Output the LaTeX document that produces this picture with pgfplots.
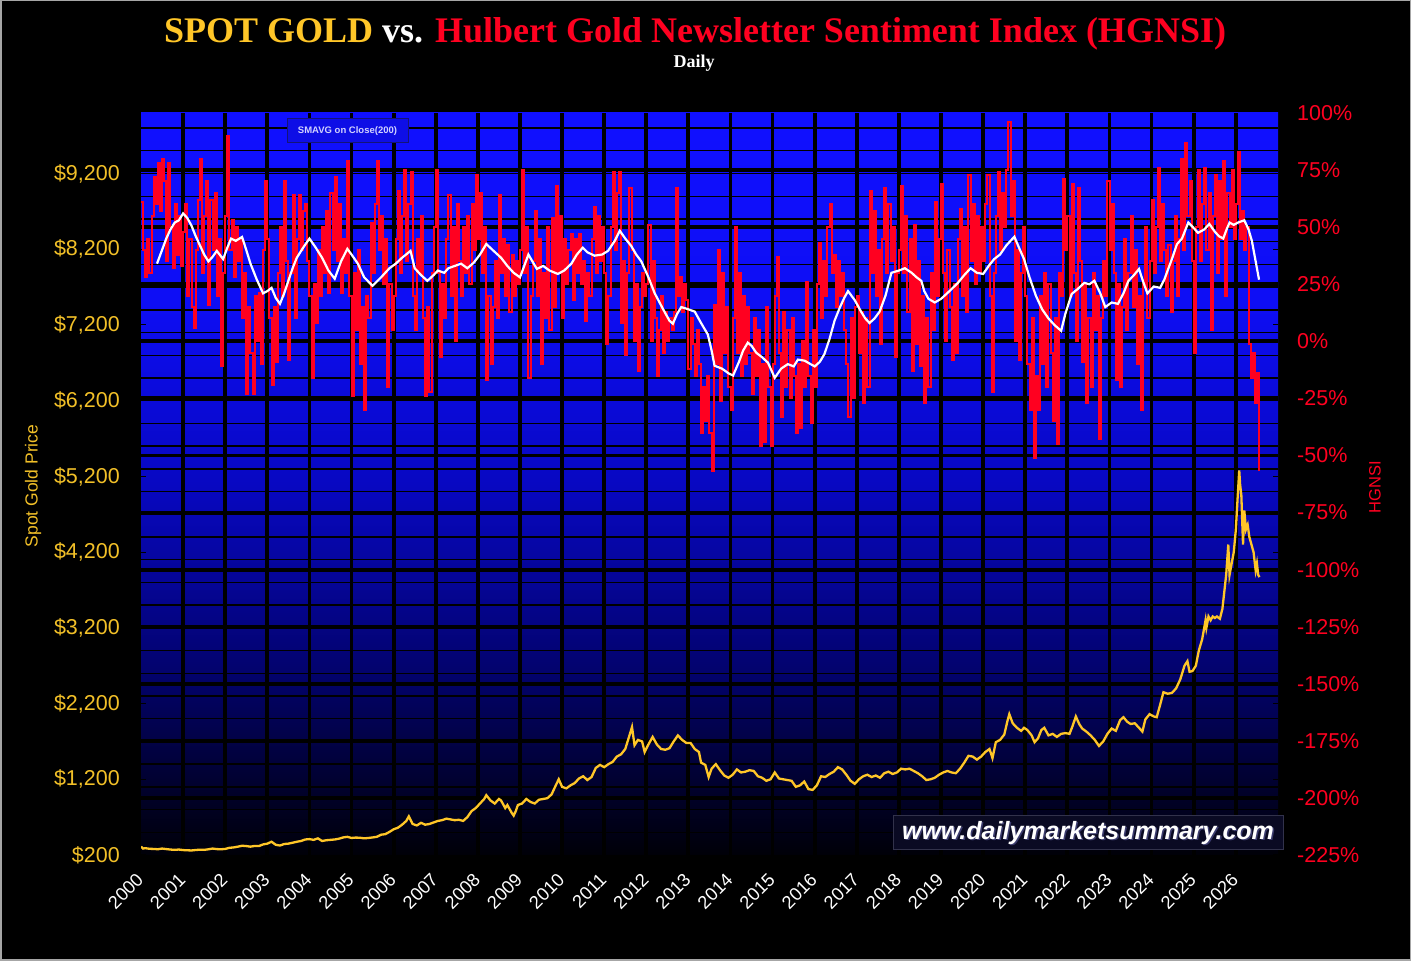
\documentclass[border=0pt]{standalone}
\usepackage{pgfplots}
\pgfplotsset{compat=1.18}
\usepackage{fontspec}
\setmainfont{Liberation Sans}
\newfontfamily\titlefont{Liberation Serif}
\definecolor{goldc}{RGB}{255,198,40}
\definecolor{labgold}{RGB}{242,192,40}
\definecolor{redc}{RGB}{255,0,32}
\pgfdeclareverticalshading{bgblue}{100bp}{rgb(0bp)=(0,0,0.03); rgb(25bp)=(0,0,0.03); rgb(37.5bp)=(0.01,0.01,0.43); rgb(50bp)=(0.03,0.03,0.76); rgb(62.5bp)=(0.055,0.055,0.96); rgb(75bp)=(0.063,0.063,1); rgb(100bp)=(0.063,0.063,1)}
\begin{document}
\begin{tikzpicture}[x=1pt,y=1pt]
\fill[black] (0,0) rectangle (1411,961);
\draw[gray!70, line width=1.5pt] (0.75,0.75) rectangle (1410.25,960.25);
\shade[shading=bgblue] (141,106) rectangle (1278,848);
\begin{axis}[
  at={(141pt,106pt)}, anchor=south west, width=1137pt, height=742pt, scale only axis,
  xmin=2000, xmax=2027, ymin=200, ymax=10000,
  scaled ticks=false,
  axis line style={draw=none},
  /pgf/number format/assume math mode=true,
  xtick={2000,2001,...,2026},
  xticklabel={\pgfmathprintnumber[1000 sep={}]{\tick}},
  xtick style={draw=none},
  extra x ticks={2001,2002,...,2026},
  extra x tick style={grid=major, major tick length=0pt, xticklabel={}},
  ytick={200,1200,...,9200},
  yticklabel={\$\pgfmathprintnumber{\tick}},
  minor ytick={500,800,...,9800},
  yminorgrids=true,
  minor grid style={black, line width=1.3pt},
  minor tick length=0pt,
  extra y ticks={953.846,1707.692,2461.538,3215.385,3969.231,4723.077,5476.923,6230.769,6984.615,7738.462,8492.308,9246.154},
  extra y tick style={grid=major, major tick length=0pt, yticklabel={}},
  major grid style={black, line width=3.8pt},
  tick align=inside, major tick length=5pt,
  ytick style={black, line width=1pt},
  xticklabel style={rotate=45, anchor=north east, inner sep=0pt, font=\fontsize{18.3}{19}\selectfont, text=white, xshift=-16pt, yshift=-8pt},
  yticklabel style={anchor=east, inner sep=0pt, xshift=-21pt, font=\fontsize{21.5}{22}\selectfont, text=labgold},
]
\addplot[goldc, line width=2.3pt] coordinates {
(2000.0,310) (2000.05,285) (2000.1,290) (2000.2,282) (2000.3,280) (2000.4,276) (2000.5,285) (2000.6,278) (2000.7,272) (2000.8,268) (2000.9,272)
(2001.0,265) (2001.1,262) (2001.2,260) (2001.3,266) (2001.4,270) (2001.5,268) (2001.6,275) (2001.7,285) (2001.8,278) (2001.9,276)
(2002.0,280) (2002.1,295) (2002.2,300) (2002.3,310) (2002.4,322) (2002.5,318) (2002.6,310) (2002.7,320) (2002.8,318) (2002.9,340)
(2003.0,350) (2003.1,375) (2003.2,335) (2003.3,325) (2003.4,345) (2003.5,350) (2003.6,362) (2003.7,375) (2003.8,385) (2003.9,405)
(2004.0,410) (2004.1,400) (2004.2,420) (2004.3,385) (2004.4,395) (2004.5,400) (2004.6,405) (2004.7,415) (2004.8,432) (2004.9,440)
(2005.0,425) (2005.1,430) (2005.2,428) (2005.3,420) (2005.4,425) (2005.5,432) (2005.6,440) (2005.7,468) (2005.8,475) (2005.9,505)
(2006.0,540) (2006.1,560) (2006.2,600) (2006.3,650) (2006.36,710) (2006.45,610) (2006.55,590) (2006.65,625) (2006.75,600) (2006.85,610) (2006.95,630)
(2007.05,650) (2007.15,660) (2007.25,680) (2007.35,670) (2007.45,660) (2007.55,665) (2007.65,650) (2007.75,700) (2007.85,780) (2007.95,820)
(2008.05,880) (2008.15,940) (2008.2,990) (2008.3,920) (2008.4,880) (2008.5,940) (2008.55,920) (2008.65,820) (2008.7,860) (2008.8,760) (2008.85,720) (2008.9,780) (2008.95,860)
(2009.05,880) (2009.15,940) (2009.25,900) (2009.35,880) (2009.45,930) (2009.55,940) (2009.65,950) (2009.75,1000) (2009.85,1120) (2009.92,1200)
(2010.0,1100) (2010.1,1080) (2010.2,1120) (2010.3,1150) (2010.4,1210) (2010.5,1240) (2010.6,1190) (2010.7,1230) (2010.8,1350) (2010.9,1390)
(2011.0,1360) (2011.1,1400) (2011.2,1430) (2011.3,1500) (2011.4,1530) (2011.5,1600) (2011.6,1780) (2011.66,1890) (2011.72,1650) (2011.8,1720) (2011.9,1700) (2011.96,1560)
(2012.05,1660) (2012.15,1760) (2012.25,1660) (2012.35,1600) (2012.45,1590) (2012.55,1610) (2012.65,1700) (2012.75,1780) (2012.85,1720) (2012.95,1680)
(2013.05,1680) (2013.15,1600) (2013.25,1560) (2013.3,1420) (2013.4,1390) (2013.48,1230) (2013.55,1340) (2013.65,1400) (2013.75,1320) (2013.85,1250) (2013.95,1220)
(2014.05,1260) (2014.15,1330) (2014.25,1290) (2014.35,1300) (2014.45,1320) (2014.55,1310) (2014.65,1240) (2014.75,1220) (2014.85,1180) (2014.95,1200)
(2015.05,1290) (2015.15,1210) (2015.25,1200) (2015.35,1190) (2015.45,1180) (2015.55,1100) (2015.65,1120) (2015.75,1170) (2015.85,1070) (2015.95,1060)
(2016.05,1120) (2016.15,1240) (2016.25,1230) (2016.35,1270) (2016.45,1300) (2016.55,1360) (2016.65,1330) (2016.75,1260) (2016.85,1180) (2016.95,1140)
(2017.05,1200) (2017.15,1240) (2017.25,1260) (2017.35,1230) (2017.45,1250) (2017.55,1220) (2017.65,1280) (2017.75,1300) (2017.85,1270) (2017.95,1290)
(2018.05,1340) (2018.15,1330) (2018.25,1340) (2018.35,1310) (2018.45,1280) (2018.55,1240) (2018.65,1190) (2018.75,1200) (2018.85,1220) (2018.95,1260)
(2019.05,1290) (2019.15,1310) (2019.25,1290) (2019.35,1280) (2019.45,1340) (2019.55,1420) (2019.65,1510) (2019.75,1500) (2019.85,1460) (2019.95,1500)
(2020.05,1560) (2020.15,1600) (2020.22,1480) (2020.3,1690) (2020.4,1720) (2020.5,1790) (2020.58,1980) (2020.62,2060) (2020.7,1940) (2020.8,1880) (2020.9,1840) (2020.97,1880)
(2021.05,1850) (2021.15,1780) (2021.22,1690) (2021.3,1740) (2021.38,1850) (2021.45,1880) (2021.55,1780) (2021.65,1800) (2021.75,1760) (2021.85,1800) (2021.95,1810)
(2022.05,1800) (2022.12,1900) (2022.2,2030) (2022.28,1930) (2022.35,1870) (2022.45,1830) (2022.55,1780) (2022.65,1720) (2022.75,1640) (2022.85,1700) (2022.95,1800)
(2023.05,1870) (2023.15,1840) (2023.25,1980) (2023.33,2020) (2023.42,1960) (2023.5,1930) (2023.6,1940) (2023.7,1880) (2023.78,1830) (2023.85,1990) (2023.95,2060)
(2024.05,2030) (2024.12,2020) (2024.2,2180) (2024.28,2350) (2024.38,2330) (2024.48,2340) (2024.58,2400) (2024.68,2520) (2024.78,2700) (2024.85,2760) (2024.9,2620) (2024.97,2630)
(2025.05,2700) (2025.12,2900) (2025.2,3050) (2025.28,3300) (2025.3,3200) (2025.35,3350) (2025.4,3300) (2025.45,3350) (2025.5,3330) (2025.55,3350) (2025.62,3320) (2025.68,3450) (2025.72,3650) (2025.77,3900) (2025.82,4300) (2025.85,3900) (2025.9,4050) (2025.95,4200)
(2026.0,4500) (2026.04,4900) (2026.08,5280) (2026.1,5100) (2026.13,4950) (2026.17,4300) (2026.2,4750) (2026.24,4500) (2026.28,4560) (2026.32,4400) (2026.37,4300) (2026.42,4200) (2026.47,3960) (2026.5,4050) (2026.53,3900) (2026.56,3870)
};
\end{axis}
\begin{axis}[
  at={(141pt,106pt)}, anchor=south west, width=1137pt, height=742pt, scale only axis,
  xmin=2000, xmax=2027, ymin=-225, ymax=100,
  scaled ticks=false,
  hide x axis, axis y line*=right, axis line style={draw=none},
  /pgf/number format/assume math mode=true,
  ytick={-225,-200,...,100}, major tick length=0pt,
  yticklabel={\pgfmathprintnumber{\tick}\%},
  yticklabel style={anchor=west, inner sep=0pt, xshift=19pt, font=\fontsize{21.5}{22}\selectfont, text=redc},
]
\addplot[redc, line width=2pt, const plot] coordinates {
(2000.00,61) (2000.05,40) (2000.10,28) (2000.15,45) (2000.20,30) (2000.25,55) (2000.30,72) (2000.35,60) (2000.40,78) (2000.45,57) (2000.50,80) (2000.55,70) (2000.60,35) (2000.65,78) (2000.70,50) (2000.75,32) (2000.80,60) (2000.85,38) (2000.90,55) (2000.95,33)
(2001.00,48) (2001.05,60) (2001.10,20) (2001.15,45) (2001.20,15) (2001.25,6) (2001.30,40) (2001.35,62) (2001.40,80) (2001.45,30) (2001.50,55) (2001.55,70) (2001.60,16) (2001.65,62) (2001.70,40) (2001.75,65) (2001.80,20) (2001.85,45) (2001.90,-11) (2001.95,30)
(2002.00,55) (2002.05,90) (2002.10,40) (2002.15,53) (2002.20,28) (2002.25,50) (2002.30,35) (2002.35,45) (2002.40,10) (2002.45,30) (2002.50,-23) (2002.55,15) (2002.60,-5) (2002.65,-23) (2002.70,20) (2002.75,0) (2002.80,21) (2002.85,-10) (2002.90,40) (2002.95,70)
(2003.00,45) (2003.05,10) (2003.10,-19) (2003.15,15) (2003.20,-9) (2003.25,30) (2003.30,50) (2003.35,20) (2003.40,70) (2003.45,35) (2003.50,-8) (2003.55,30) (2003.60,64) (2003.65,10) (2003.70,45) (2003.75,64) (2003.80,40) (2003.85,57) (2003.90,60) (2003.95,35)
(2004.00,20) (2004.05,-16) (2004.10,25) (2004.15,8) (2004.20,40) (2004.25,20) (2004.30,50) (2004.35,30) (2004.40,57) (2004.45,21) (2004.50,65) (2004.55,40) (2004.60,72) (2004.65,35) (2004.70,60) (2004.75,21) (2004.80,45) (2004.85,30) (2004.90,79) (2004.95,20)
(2005.00,-24) (2005.05,30) (2005.10,5) (2005.15,40) (2005.20,-10) (2005.25,15) (2005.30,-30) (2005.35,20) (2005.40,10) (2005.45,52) (2005.50,30) (2005.55,60) (2005.60,79) (2005.65,40) (2005.70,55) (2005.75,25) (2005.80,45) (2005.85,-20) (2005.90,25) (2005.95,5)
(2006.00,20) (2006.05,45) (2006.10,66) (2006.15,30) (2006.20,55) (2006.25,75) (2006.30,35) (2006.35,60) (2006.40,74) (2006.45,20) (2006.50,5) (2006.55,45) (2006.60,30) (2006.65,55) (2006.70,10) (2006.75,-24) (2006.80,15) (2006.85,-22) (2006.90,30) (2006.95,50)
(2007.00,75) (2007.05,30) (2007.10,-7) (2007.15,25) (2007.20,10) (2007.25,45) (2007.30,64) (2007.35,20) (2007.40,50) (2007.45,0) (2007.50,60) (2007.55,35) (2007.60,20) (2007.65,50) (2007.70,30) (2007.75,55) (2007.80,25) (2007.85,60) (2007.90,40) (2007.95,73)
(2008.00,45) (2008.05,65) (2008.10,30) (2008.15,50) (2008.20,-17) (2008.25,20) (2008.30,-10) (2008.35,15) (2008.40,35) (2008.45,10) (2008.50,64) (2008.55,30) (2008.60,45) (2008.65,20) (2008.70,42) (2008.75,13) (2008.80,38) (2008.85,20) (2008.90,35) (2008.95,25)
(2009.00,40) (2009.05,75) (2009.10,30) (2009.15,50) (2009.20,-16) (2009.25,20) (2009.30,35) (2009.35,57) (2009.40,20) (2009.45,45) (2009.50,-10) (2009.55,30) (2009.60,10) (2009.65,50) (2009.70,5) (2009.75,54) (2009.80,15) (2009.85,68) (2009.90,30) (2009.95,55)
(2010.00,10) (2010.05,45) (2010.10,25) (2010.15,40) (2010.20,47) (2010.25,18) (2010.30,45) (2010.35,30) (2010.40,47) (2010.45,25) (2010.50,35) (2010.55,9) (2010.60,30) (2010.65,20) (2010.70,45) (2010.75,59) (2010.80,30) (2010.85,55) (2010.90,35) (2010.95,50)
(2011.00,30) (2011.05,-1) (2011.10,20) (2011.15,50) (2011.20,74) (2011.25,40) (2011.30,65) (2011.35,74) (2011.40,8) (2011.45,35) (2011.50,-6) (2011.55,30) (2011.60,67) (2011.65,40) (2011.70,0) (2011.75,25) (2011.80,-13) (2011.85,15) (2011.90,30) (2011.95,20)
(2012.00,25) (2012.05,51) (2012.10,0) (2012.15,35) (2012.20,10) (2012.25,-15) (2012.30,5) (2012.35,20) (2012.40,-5) (2012.45,13) (2012.50,0) (2012.55,10) (2012.60,5) (2012.65,13) (2012.70,67) (2012.75,20) (2012.80,28) (2012.85,13) (2012.90,25) (2012.95,18)
(2013.00,-12) (2013.05,10) (2013.10,-1) (2013.15,-15) (2013.20,5) (2013.25,-10) (2013.30,-40) (2013.35,-20) (2013.40,-35) (2013.45,-15) (2013.50,-40) (2013.55,-57) (2013.60,16) (2013.65,-10) (2013.70,40) (2013.75,-26) (2013.80,30) (2013.85,-5) (2013.90,15) (2013.95,-20)
(2014.00,-30) (2014.05,10) (2014.10,50) (2014.15,-5) (2014.20,30) (2014.25,-15) (2014.30,20) (2014.35,-10) (2014.40,15) (2014.45,-5) (2014.50,-23) (2014.55,10) (2014.60,-15) (2014.65,5) (2014.70,-46) (2014.75,-10) (2014.80,-44) (2014.85,15) (2014.90,-20) (2014.95,-46)
(2015.00,-10) (2015.05,20) (2015.10,37) (2015.15,-5) (2015.20,-33) (2015.25,13) (2015.30,-20) (2015.35,5) (2015.40,-25) (2015.45,10) (2015.50,-15) (2015.55,-40) (2015.60,-10) (2015.65,-38) (2015.70,0) (2015.75,-20) (2015.80,26) (2015.85,-15) (2015.90,-36) (2015.95,5)
(2016.00,-20) (2016.05,25) (2016.10,43) (2016.15,10) (2016.20,35) (2016.25,20) (2016.30,50) (2016.35,60) (2016.40,30) (2016.45,38) (2016.50,15) (2016.55,35) (2016.60,20) (2016.65,30) (2016.70,5) (2016.75,-10) (2016.80,-33) (2016.85,10) (2016.90,-25) (2016.95,15)
(2017.00,20) (2017.05,-5) (2017.10,13) (2017.15,-27) (2017.20,10) (2017.25,-20) (2017.30,66) (2017.35,30) (2017.40,57) (2017.45,20) (2017.50,40) (2017.55,-1) (2017.60,45) (2017.65,67) (2017.70,30) (2017.75,60) (2017.80,35) (2017.85,50) (2017.90,-7) (2017.95,30)
(2018.00,40) (2018.05,68) (2018.10,30) (2018.15,55) (2018.20,13) (2018.25,45) (2018.30,-13) (2018.35,51) (2018.40,-1) (2018.45,35) (2018.50,-11) (2018.55,20) (2018.60,-27) (2018.65,10) (2018.70,-20) (2018.75,30) (2018.80,5) (2018.85,61) (2018.90,20) (2018.95,45)
(2019.00,69) (2019.05,30) (2019.10,0) (2019.15,40) (2019.20,15) (2019.25,-8) (2019.30,25) (2019.35,-5) (2019.40,45) (2019.45,58) (2019.50,20) (2019.55,50) (2019.60,13) (2019.65,73) (2019.70,35) (2019.75,60) (2019.80,25) (2019.85,55) (2019.90,30) (2019.95,50)
(2020.00,35) (2020.05,60) (2020.10,73) (2020.15,20) (2020.20,-22) (2020.25,30) (2020.30,55) (2020.35,74) (2020.40,40) (2020.45,65) (2020.50,50) (2020.55,75) (2020.60,96) (2020.65,55) (2020.70,70) (2020.75,0) (2020.80,40) (2020.85,-8) (2020.90,30) (2020.95,50)
(2021.00,20) (2021.05,-10) (2021.10,-30) (2021.15,10) (2021.20,-51) (2021.25,-15) (2021.30,-30) (2021.35,20) (2021.40,-10) (2021.45,30) (2021.50,-20) (2021.55,25) (2021.60,-5) (2021.65,-35) (2021.70,10) (2021.75,-45) (2021.80,30) (2021.85,20) (2021.90,71) (2021.95,40)
(2022.00,55) (2022.05,20) (2022.10,69) (2022.15,30) (2022.20,0) (2022.25,67) (2022.30,35) (2022.35,-9) (2022.40,25) (2022.45,-27) (2022.50,10) (2022.55,-20) (2022.60,30) (2022.65,5) (2022.70,20) (2022.75,-43) (2022.80,10) (2022.85,35) (2022.90,20) (2022.95,70)
(2023.00,40) (2023.05,60) (2023.10,30) (2023.15,-17) (2023.20,25) (2023.25,-20) (2023.30,15) (2023.35,45) (2023.40,5) (2023.45,30) (2023.50,55) (2023.55,15) (2023.60,40) (2023.65,-10) (2023.70,20) (2023.75,-30) (2023.80,25) (2023.85,50) (2023.90,10) (2023.95,35)
(2024.00,62) (2024.05,30) (2024.10,50) (2024.15,76) (2024.20,35) (2024.25,60) (2024.30,40) (2024.35,20) (2024.40,42) (2024.45,13) (2024.50,35) (2024.55,55) (2024.60,20) (2024.65,45) (2024.70,80) (2024.75,40) (2024.80,87) (2024.85,55) (2024.90,70) (2024.95,35)
(2025.00,-5) (2025.05,50) (2025.10,75) (2025.15,35) (2025.20,60) (2025.25,76) (2025.30,40) (2025.35,65) (2025.40,5) (2025.45,55) (2025.50,73) (2025.55,30) (2025.60,70) (2025.65,45) (2025.70,79) (2025.75,20) (2025.80,65) (2025.85,50) (2025.90,75) (2025.95,45)
(2026.00,60) (2026.05,83) (2026.10,45) (2026.15,57) (2026.20,40) (2026.25,50) (2026.30,-1) (2026.35,-16) (2026.40,-5) (2026.45,-27) (2026.50,-14) (2026.55,-57)
};
\addplot[white, line width=2.2pt] coordinates {
(2000.38,34) (2000.5,40) (2000.6,45) (2000.7,49) (2000.8,52) (2000.9,53) (2001.0,56) (2001.1,54) (2001.2,50.6) (2001.3,46) (2001.4,42) (2001.5,38) (2001.6,35) (2001.7,37) (2001.8,39.6) (2001.95,36) (2002.05,41) (2002.14,45) (2002.25,44) (2002.4,45.7) (2002.5,40) (2002.6,34) (2002.75,27) (2002.9,21) (2003.0,22) (2003.1,23.4) (2003.2,19) (2003.3,16.4) (2003.4,21) (2003.5,26.5) (2003.6,32) (2003.7,36.6) (2003.85,41) (2004.0,45) (2004.15,41) (2004.3,36.6) (2004.45,31) (2004.6,27.4) (2004.75,35) (2004.9,40.5) (2005.0,38) (2005.15,34) (2005.3,28) (2005.5,24.3) (2005.7,28) (2005.9,32) (2006.05,34) (2006.2,36.6) (2006.4,39.6) (2006.5,32) (2006.65,29) (2006.8,26.5) (2006.95,29) (2007.05,31) (2007.2,30) (2007.3,32) (2007.45,33) (2007.6,34) (2007.75,32) (2007.9,34.4) (2008.05,38) (2008.2,42.6) (2008.35,40) (2008.55,36.6) (2008.7,33) (2008.85,30) (2009.0,28) (2009.1,33) (2009.2,38) (2009.4,31.7) (2009.55,33) (2009.7,31) (2009.9,29.5) (2010.05,31) (2010.22,34) (2010.35,38) (2010.49,41) (2010.6,39) (2010.77,37.5) (2010.95,38) (2011.09,39.6) (2011.25,44) (2011.37,48.4) (2011.5,45) (2011.64,41.8) (2011.76,38) (2011.88,35) (2012.05,28) (2012.2,21) (2012.4,14) (2012.55,9) (2012.63,7.7) (2012.73,12) (2012.83,15) (2013.0,14) (2013.15,13) (2013.3,8) (2013.46,3) (2013.55,-4) (2013.62,-10.7) (2013.8,-12) (2013.95,-14) (2014.06,-15) (2014.2,-9) (2014.3,-4) (2014.41,-0.6) (2014.5,-2) (2014.61,-5) (2014.75,-7) (2014.89,-9.4) (2015.05,-16) (2015.2,-12) (2015.36,-10) (2015.5,-11) (2015.6,-8) (2015.76,-8.5) (2015.9,-10) (2016.0,-11) (2016.12,-9) (2016.23,-5.6) (2016.35,1) (2016.47,9) (2016.6,15) (2016.7,19) (2016.79,22) (2016.95,18) (2017.1,13) (2017.2,10) (2017.3,8) (2017.42,10) (2017.54,13) (2017.68,20) (2017.82,30) (2018.0,31) (2018.14,32) (2018.3,30) (2018.42,28) (2018.53,26.5) (2018.6,22) (2018.7,18.6) (2018.85,17) (2019.0,18.6) (2019.2,22) (2019.4,25.6) (2019.55,29) (2019.7,32) (2019.85,30) (2020.0,29.5) (2020.13,33) (2020.26,36) (2020.4,38) (2020.55,42) (2020.74,45.8) (2020.85,41) (2020.97,36) (2021.1,28) (2021.25,20) (2021.4,14) (2021.55,10) (2021.7,7) (2021.85,4.6) (2021.95,12) (2022.1,20.7) (2022.25,23) (2022.4,25.6) (2022.52,25) (2022.64,26.5) (2022.78,21) (2022.9,15) (2023.05,17) (2023.2,16.4) (2023.33,21) (2023.45,26.5) (2023.58,29) (2023.7,31.7) (2023.8,26) (2023.9,21) (2024.05,24) (2024.2,23.4) (2024.3,27) (2024.4,32) (2024.5,37) (2024.6,42.5) (2024.72,45) (2024.87,52) (2024.98,50) (2025.1,47.5) (2025.25,49) (2025.37,51.4) (2025.5,48) (2025.6,46) (2025.7,45) (2025.78,49) (2025.85,52) (2025.95,51) (2026.05,52) (2026.2,53) (2026.3,49) (2026.38,44) (2026.44,38) (2026.5,32) (2026.55,27)
};
\end{axis}
\node[anchor=base] at (695,918) {\titlefont\bfseries\fontsize{36}{40}\selectfont\textcolor{goldc}{SPOT GOLD} \textcolor{white}{vs.} \textcolor{redc}{Hulbert Gold Newsletter Sentiment Index (HGNSI)}};
\node[anchor=base, text=white] at (694,893) {\titlefont\bfseries\fontsize{18}{20}\selectfont Daily};
\node[rotate=90, text=labgold] at (33,475) {\fontsize{17.5}{18}\selectfont Spot Gold Price};
\node[rotate=90, text=redc] at (1375,474) {\fontsize{16.5}{18}\selectfont HGNSI};
\node[draw={rgb,255:red,20;green,20;blue,120}, fill={rgb,255:red,14;green,14;blue,230}, line width=1pt, minimum width=121pt, minimum height=24pt, inner sep=0pt, text={rgb,255:red,210;green,210;blue,255}, font=\bfseries\fontsize{9.5}{10}\selectfont] at (347.5,830) {SMAVG on Close(200)};
\node[draw={rgb,255:red,50;green,50;blue,75}, fill={rgb,255:red,10;green,10;blue,35}, line width=1pt, minimum width=390pt, minimum height=34pt, inner sep=0pt] at (1088,128) {};
\node[text={rgb,255:red,60;green,60;blue,110}, font=\bfseries\itshape\fontsize{25}{26}\selectfont] at (1089.5,126.5) {www.dailymarketsummary.com};
\node[text=white, font=\bfseries\itshape\fontsize{25}{26}\selectfont] at (1088,128) {www.dailymarketsummary.com};
\end{tikzpicture}
\end{document}
